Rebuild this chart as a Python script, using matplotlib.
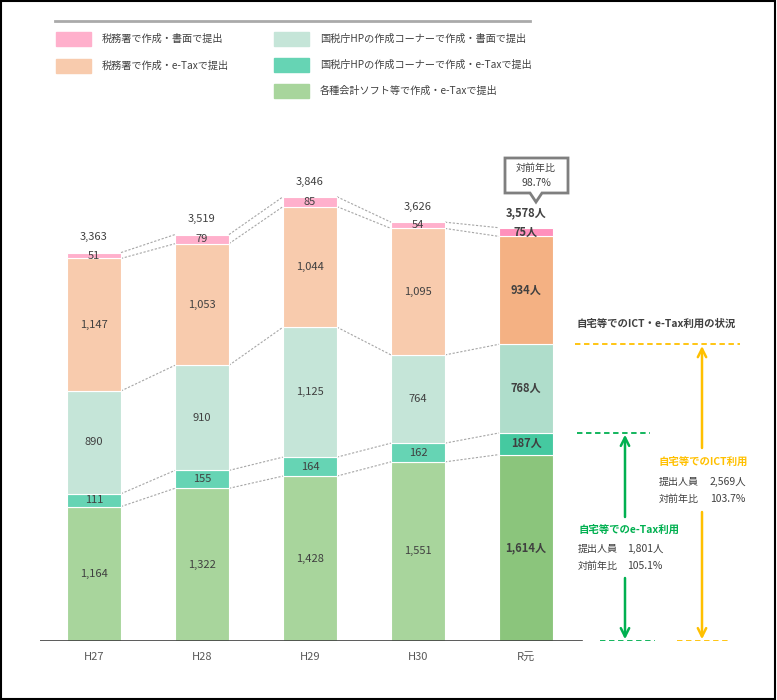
import matplotlib.pyplot as plt
import matplotlib.patches as mpatches

plt.rcParams['font.family'] = ['Noto Sans CJK JP', 'DejaVu Sans']

# データ(千人)
years = ['H27', 'H28', 'H29', 'H30', 'R元']
soft_etax = [1164, 1322, 1428, 1551, 1614]     # 各種会計ソフト等で作成・e-Tax
hp_etax = [111, 155, 164, 162, 187]            # 国税庁HP・e-Tax
hp_paper = [890, 910, 1125, 764, 768]          # 国税庁HP・書面
office_etax = [1147, 1053, 1044, 1095, 934]    # 税務署・e-Tax
office_paper = [51, 79, 85, 54, 75]            # 税務署・書面

series = [soft_etax, hp_etax, hp_paper, office_etax, office_paper]
labels = ['各種会計ソフト等で作成・e-Taxで提出',
          '国税庁HPの作成コーナーで作成・e-Taxで提出',
          '国税庁HPの作成コーナーで作成・書面で提出',
          '税務署で作成・e-Taxで提出',
          '税務署で作成・書面で提出']
colors = ['#a8d59c', '#66d4b4', '#c5e5d8', '#f8cbad', '#ffb0cc']
colors_last = ['#8bc57c', '#45c9a0', '#afddcb', '#f4b183', '#ff90bc']

TXT = '#404040'
W, H = 777, 700
PX_X = 108      # px per bar slot
PX_Y = 0.1155   # px per unit
BASE = 641      # baseline px

fig = plt.figure(figsize=(W / 100, H / 100), dpi=100)
ax = fig.add_axes([40 / W, (H - BASE) / H, 732 / W, 541 / H])
ax.set_xlim(-0.5, -0.5 + 732 / PX_X)
ax.set_ylim(0, 541 / PX_Y)
ax.axis('off')

def py(p):
    # pixel row -> data value
    return (BASE - p) / PX_Y

def px(p):
    return (p - 94) / PX_X

x = list(range(len(years)))
n = len(years)
bottoms = [0] * n
levels = []
for vals, c, cl in zip(series, colors, colors_last):
    cols = [c] * (n - 1) + [cl]
    ax.bar(x, vals, bottom=bottoms, width=0.5, color=cols,
           edgecolor='white', linewidth=0.8, zorder=2)
    for i, v in enumerate(vals):
        yc = bottoms[i] + v / 2
        if i == n - 1:
            ax.text(i, yc, f'{v:,}人', ha='center', va='center', fontsize=8,
                    fontweight='bold', color=TXT, zorder=4)
        else:
            ax.text(i, yc, f'{v:,}', ha='center', va='center', fontsize=8,
                    color=TXT, zorder=4)
    bottoms = [b + v for b, v in zip(bottoms, vals)]
    levels.append(list(bottoms))

# 棒の間の点線
for lev in levels:
    for i in range(n - 1):
        ax.plot([i + 0.25, i + 0.75], [lev[i], lev[i + 1]], color='#a6a6a6',
                lw=0.8, ls=(0, (2, 1.5)), zorder=1)

totals = bottoms
for i, t in enumerate(totals):
    if i == n - 1:
        ax.annotate(f'{t:,}人', (i, t), xytext=(0, 11), textcoords='offset points',
                    ha='center', va='center', fontsize=8, fontweight='bold', color=TXT)
    else:
        ax.annotate(f'{t:,}', (i, t), xytext=(0, 11), textcoords='offset points',
                    ha='center', va='center', fontsize=8, color=TXT)
    ax.text(i, py(657), years[i], ha='center', va='center', fontsize=8, color='#595959')

# 基線
ax.plot([px(40), px(582)], [0, 0], color='#404040', lw=1.2, zorder=3)

# 自宅等での利用
etax_home = [a + b for a, b in zip(soft_etax, hp_etax)]
ict_home = [a + b for a, b in zip(etax_home, hp_paper)]
GREEN, YELLOW = '#00b050', '#ffc000'
dash = (0, (3, 2))

ax.plot([px(577), px(650)], [etax_home[-1]] * 2, color=GREEN, lw=1.3, ls=dash)
ax.plot([px(600), px(655)], [0, 0], color=GREEN, lw=1.3, ls=dash)
ax.plot([px(575), px(740)], [ict_home[-1]] * 2, color=YELLOW, lw=1.3, ls=dash)
ax.plot([px(677), px(728)], [0, 0], color=YELLOW, lw=1.3, ls=dash)

arr = dict(arrowstyle='->', lw=1.8, mutation_scale=15, shrinkA=0, shrinkB=0)
ax.annotate('', xy=(px(625), etax_home[-1] - 15), xytext=(px(625), py(517)),
            arrowprops=dict(arr, color=GREEN))
ax.annotate('', xy=(px(625), 15), xytext=(px(625), py(578)),
            arrowprops=dict(arr, color=GREEN))
ax.annotate('', xy=(px(702), ict_home[-1] - 15), xytext=(px(702), py(448)),
            arrowprops=dict(arr, color=YELLOW))
ax.annotate('', xy=(px(702), 15), xytext=(px(702), py(512)),
            arrowprops=dict(arr, color=YELLOW))

# オーバーレイ(ピクセル座標)
ov = fig.add_axes([0, 0, 1, 1])
ov.set_xlim(0, W)
ov.set_ylim(H, 0)
ov.axis('off')
ov.patch.set_alpha(0)

ov.add_patch(mpatches.Rectangle((1, 1), W - 3, H - 2, fill=False, ec='black', lw=1.5))

ov.text(577, 324, '自宅等でのICT・e-Tax利用の状況', fontsize=7.5, fontweight='bold',
        color=TXT, va='center')

etax_ratio = etax_home[-1] / etax_home[-2] * 100
ict_ratio = ict_home[-1] / ict_home[-2] * 100
total_ratio = totals[-1] / totals[-2] * 100

ov.text(578, 530, '自宅等でのe-Tax利用', fontsize=7.5, fontweight='bold', color=GREEN, va='center')
ov.text(578, 549, '提出人員', fontsize=7.2, color=TXT, va='center')
ov.text(627, 549, f'{etax_home[-1]:,}人', fontsize=7.5, color=TXT, va='center')
ov.text(578, 566, '対前年比', fontsize=7.2, color=TXT, va='center')
ov.text(627, 566, f'{etax_ratio:.1f}%', fontsize=7.5, color=TXT, va='center')

ov.text(659, 462, '自宅等でのICT利用', fontsize=7.5, fontweight='bold', color=YELLOW, va='center')
ov.text(659, 482, '提出人員', fontsize=7.2, color=TXT, va='center')
ov.text(710, 482, f'{ict_home[-1]:,}人', fontsize=7.5, color=TXT, va='center')
ov.text(659, 499, '対前年比', fontsize=7.2, color=TXT, va='center')
ov.text(710, 499, f'{ict_ratio:.1f}%', fontsize=7.5, color=TXT, va='center')

# 吹き出し
callout = [(505, 158), (568, 158), (568, 193), (542, 193), (536, 202),
           (530, 193), (505, 193)]
ov.add_patch(mpatches.Polygon(callout, closed=True, fc='white', ec='#7f7f7f', lw=2))
ov.text(536, 168, '対前年比', fontsize=7.2, color=TXT, ha='center', va='center')
ov.text(536, 183, f'{total_ratio:.1f}%', fontsize=7.5, color=TXT, ha='center', va='center')

# 凡例
ov.plot([55, 530], [21, 21], color='#aaaaaa', lw=2)
leg_pos = {4: (56, 39), 3: (56, 66), 2: (274, 39), 1: (274, 65), 0: (274, 91)}
for k, (lx, ly) in leg_pos.items():
    ov.add_patch(mpatches.Rectangle((lx, ly - 7), 35, 14, color=colors[k]))
    ov.text(lx + 46, ly, labels[k], fontsize=7.3, color=TXT, va='center')

fig.savefig('out.png', dpi=100)
